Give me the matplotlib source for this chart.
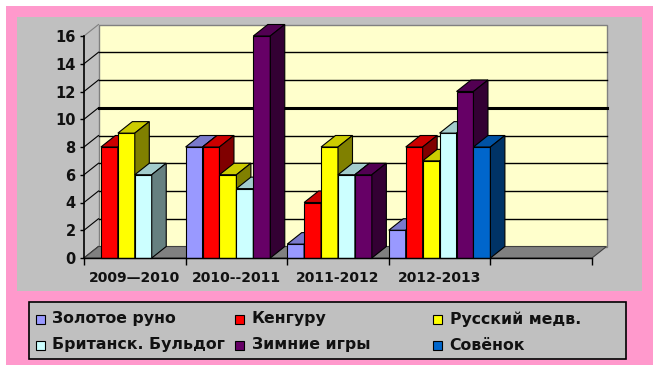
import numpy as np
import matplotlib
matplotlib.use("Agg")
from matplotlib import pyplot as plt
from matplotlib.patches import Rectangle, Polygon
from matplotlib.colors import to_rgb

# chart data
categories = ["2009\u20142010", "2010--2011", "2011-2012", "2012-2013"]
series_names = ["Золотое руно", "Кенгуру", "Русский медв.",
                "Британск. Бульдог", "Зимние игры", "Совёнок"]
series_colors = ["#9999FF", "#FF0000", "#FFFF00",
                 "#CCFFFF", "#660066", "#0066CC"]

zolotoe_runo = [0, 8, 1, 2]
kenguru = [8, 8, 4, 8]
russkiy_medv = [9, 6, 8, 7]
britansk_buldog = [6, 5, 6, 9]
zimnie_igry = [0, 16, 6, 12]
sovenok = [0, 0, 0, 8]

values = [zolotoe_runo, kenguru, russkiy_medv,
          britansk_buldog, zimnie_igry, sovenok]
yticks = list(range(0, 17, 2))

W, H = 659, 371
N_SLOTS = 5  # four categories plus one empty slot on the right


def fx(px):
    return px / W


def fy(py):
    return 1 - py / H


def shade(c, k):
    r, g, b = to_rgb(c)
    return (r * k, g * k, b * k)


fig = plt.figure(figsize=(W / 100, H / 100), dpi=100)
fig.patch.set_facecolor("white")

# frame: pink border, grey chart area
fig.patches.append(Rectangle((fx(6), fy(365)), fx(647), 359 / H,
                             transform=fig.transFigure, fc="#FF99CC", ec="none", zorder=-10))
fig.patches.append(Rectangle((fx(17), fy(291)), fx(625), 274 / H,
                             transform=fig.transFigure, fc="#C0C0C0", ec="none", zorder=-9))

# front plane of the 3d chart
ax_l, ax_r, ax_t, ax_b = 84, 592, 36, 258
ax = fig.add_axes([fx(ax_l), fy(ax_b), fx(ax_r - ax_l), (ax_b - ax_t) / H])
ax.set_xlim(0, N_SLOTS)
ax.set_ylim(0, 16)
ax.patch.set_visible(False)

# depth offset (pixels -> data units)
ddx = 14.5 / ((ax_r - ax_l) / N_SLOTS)
ddy = 11.5 / ((ax_b - ax_t) / 16)

# back wall
ax.add_patch(Rectangle((ddx, ddy), N_SLOTS, 16, fc="#FFFFCC", ec="#808080",
                       lw=1, clip_on=False, zorder=0))
for v in yticks[1:-1]:
    ax.plot([ddx, N_SLOTS + ddx], [v + ddy, v + ddy], color="black",
            lw=2.2 if v == 10 else 1, clip_on=False, zorder=1)
# left wall lines
for v in yticks:
    ax.plot([0, ddx], [v, v + ddy], color="#808080" if v == 16 else "black",
            lw=0.8, clip_on=False, zorder=1)

# floor
ax.add_patch(Polygon([(0, 0), (N_SLOTS, 0), (N_SLOTS + ddx, ddy), (ddx, ddy)],
                     closed=True, fc="#808080", ec="#404040", lw=0.8,
                     clip_on=False, zorder=2))

# bars, left to right so each front face covers the previous side face
n = len(series_names)
bw = 1 / n
z = 3
for i in range(len(categories)):
    for j in range(n):
        h = values[j][i]
        if h <= 0:
            continue
        x = i + j * bw
        c = series_colors[j]
        ax.add_patch(Rectangle((x, 0), bw, h, fc=c, ec="black", lw=0.8,
                               clip_on=False, zorder=z))
        ax.add_patch(Polygon([(x, h), (x + bw, h), (x + bw + ddx, h + ddy), (x + ddx, h + ddy)],
                             closed=True, fc=shade(c, 0.8), ec="black", lw=0.8,
                             clip_on=False, zorder=z))
        ax.add_patch(Polygon([(x + bw, 0), (x + bw + ddx, ddy), (x + bw + ddx, h + ddy), (x + bw, h)],
                             closed=True, fc=shade(c, 0.5), ec="black", lw=0.8,
                             clip_on=False, zorder=z))
        z += 1

# axes
for s in ["top", "right"]:
    ax.spines[s].set_visible(False)
ax.spines["left"].set_linewidth(1.2)
ax.spines["bottom"].set_linewidth(1.0)
ax.spines["left"].set_zorder(50)
ax.spines["bottom"].set_zorder(50)

ax.set_yticks(yticks)
ax.tick_params(axis="y", direction="out", length=3, width=1, pad=3,
               labelsize=10.5)
ax.set_xticks(range(N_SLOTS + 1))
ax.set_xticklabels([])
ax.set_xticks(np.arange(len(categories)) + 0.5, minor=True)
ax.set_xticklabels(categories, minor=True)
ax.tick_params(axis="x", which="major", direction="out", length=5, width=1)
ax.tick_params(axis="x", which="minor", length=0, pad=9.5, labelsize=10)
for lab in ax.get_xticklabels(minor=True) + ax.get_yticklabels():
    lab.set_fontweight("bold")
    lab.set_color("#111111")

# legend drawn by hand to keep the three fixed columns
fig.patches.append(Rectangle((fx(29), fy(359)), fx(597), 57 / H,
                             transform=fig.transFigure, fc="#C0C0C0", ec="black",
                             lw=1.2, zorder=5))
col_x = [36, 235, 433]
row_y = [319, 345]
for k, (name, c) in enumerate(zip(series_names, series_colors)):
    cx = col_x[k % 3]
    cy = row_y[k // 3]
    fig.patches.append(Rectangle((fx(cx), fy(cy + 4.5)), fx(9), 9 / H,
                                 transform=fig.transFigure, fc=c, ec="black",
                                 lw=0.8, zorder=6))
    fig.text(fx(cx + 16.5), fy(cy), name, fontsize=11.3, fontweight="bold",
             va="center", ha="left", color="#111111", zorder=7)

fig.savefig("out.png", dpi=100)
